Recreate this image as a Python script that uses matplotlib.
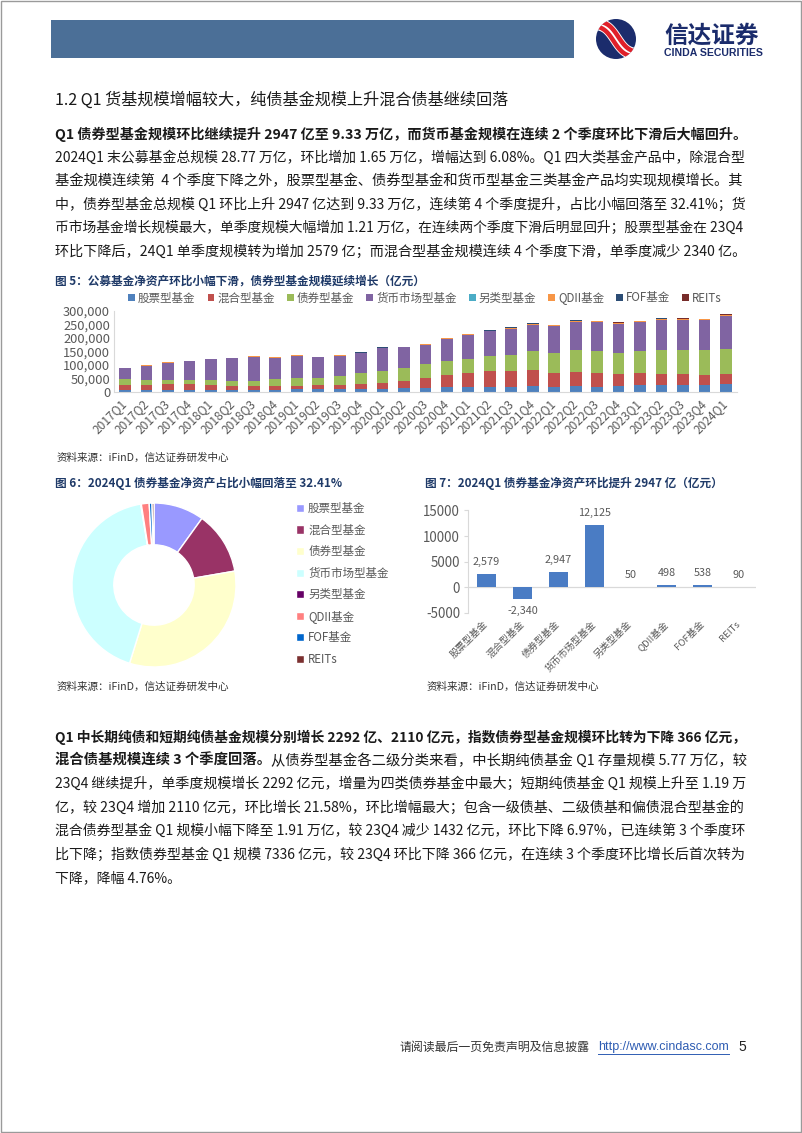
import matplotlib
matplotlib.use('Agg')
import matplotlib.pyplot as plt
from matplotlib.patches import Rectangle, Circle
from matplotlib.lines import Line2D
import numpy as np

plt.rcParams['font.family'] = ['Noto Sans CJK SC', 'DejaVu Sans']

W, H = 802, 1133
fig = plt.figure(figsize=(W / 100, H / 100), dpi=100)
fig.patch.set_facecolor('white')


def fx(x):
    return x / W


def fy(y):
    return 1 - y / H


def ax_px(l, t, r, b):
    return fig.add_axes([l / W, 1 - b / H, (r - l) / W, (b - t) / H])


# ---------------- data ----------------
quarters = ['2017Q1', '2017Q2', '2017Q3', '2017Q4', '2018Q1', '2018Q2', '2018Q3', '2018Q4',
            '2019Q1', '2019Q2', '2019Q3', '2019Q4', '2020Q1', '2020Q2', '2020Q3', '2020Q4',
            '2021Q1', '2021Q2', '2021Q3', '2021Q4', '2022Q1', '2022Q2', '2022Q3', '2022Q4',
            '2023Q1', '2023Q2', '2023Q3', '2023Q4', '2024Q1']
fund_types = ['股票型基金', '混合型基金', '债券型基金', '货币市场型基金', '另类型基金', 'QDII基金', 'FOF基金', 'REITs']

stock = [7000, 7200, 7500, 7600, 7300, 7100, 6800, 6700, 8700, 8600, 9200, 10800, 11200, 12800, 14600,
         16600, 16500, 17900, 18200, 21000, 17800, 21500, 19200, 20500, 23200, 24500, 26300, 25900, 28500]
mixed = [18900, 18800, 19700, 19400, 16200, 13900, 14200, 13100, 12300, 15100, 15600, 17700, 21000, 27900,
         36100, 45300, 53900, 59900, 59600, 59400, 52600, 52600, 48900, 44000, 44500, 42500, 40000, 37700, 35400]
bond = [19800, 17200, 14800, 15000, 18500, 18500, 19700, 27100, 28600, 28200, 33400, 41900, 45600, 47100,
        50800, 52900, 50700, 54400, 59200, 71500, 71800, 80400, 83800, 77800, 82000, 86000, 88000, 90400, 93300]
money = [42000, 53100, 65400, 70300, 77400, 83500, 88400, 78500, 83300, 75700, 74300, 73100, 83800, 76100,
         72100, 80700, 89900, 91900, 96500, 95600, 100400, 105200, 105200, 108700, 106900, 113500, 111200,
         110000, 122100]
alt = [300, 300, 300, 300, 400, 400, 400, 400, 500, 500, 500, 500, 600, 600, 600, 600, 500, 400, 400, 400,
       300, 300, 300, 300, 300, 300, 300, 300, 350]
qdii = [900, 900, 900, 900, 1000, 1000, 1000, 1000, 1100, 1100, 1100, 1100, 1300, 1300, 1400, 1500, 1700,
        1900, 2200, 2500, 2600, 2700, 2800, 3000, 3300, 3600, 3800, 4000, 4400]
fof = [0, 0, 0, 100, 200, 300, 400, 400, 500, 500, 600, 700, 800, 900, 1100, 1300, 1600, 1800, 2100, 2300,
       2200, 2100, 2000, 1900, 1800, 1500, 1300, 1100, 1600]
reits = [0, 0, 0, 0, 0, 0, 0, 0, 0, 0, 0, 0, 0, 0, 0, 0, 0, 300, 350, 550, 600, 750, 800, 800, 1000, 1100,
         1050, 1000, 1090]

qoq_change = [2579, -2340, 2947, 12125, 50, 498, 538, 90]

bar_colors = ['#4F81BD', '#C0504D', '#9BBB59', '#8064A2', '#4BACC6', '#F79646', '#2C4D75', '#772C2A']
pie_colors = ['#9999FF', '#993366', '#FFFFCC', '#CCFFFF', '#660066', '#FF8080', '#0066CC', '#7B3030']

TXT = '#1a1a1a'
GRAY = '#595959'
TITLE_C = '#1F3A68'

# ---------------- page frame / header ----------------
fig.add_artist(Rectangle((0.0008, 0.0008), 0.9984, 0.9984, transform=fig.transFigure,
                         fill=False, edgecolor='#9a9a9a', lw=1.0))
fig.add_artist(Rectangle((fx(51), fy(58)), (574 - 51) / W, 38 / H, transform=fig.transFigure,
                         facecolor='#4B6F97', edgecolor='none'))

# logo
lax = ax_px(592, 17, 640, 61)
lax.set_xlim(-1.1, 1.1)
lax.set_ylim(-1.1, 1.1)
lax.set_aspect('equal')
lax.axis('off')
circ = Circle((0, 0), 1.0, facecolor='#1B2C6C', edgecolor='none')
lax.add_patch(circ)
tt = np.linspace(-1.3, 1.3, 100)
for off, c, lw in [(0.0, 'white', 9), (-0.16, '#E0202A', 3.2), (0.16, '#E0202A', 3.2)]:
    xx = tt * 0.85 + off * 0.7
    yy = -np.tanh(tt * 1.6) * 0.8 + off * 0.7
    ln, = lax.plot(xx, yy, color=c, lw=lw, solid_capstyle='butt')
    ln.set_clip_path(circ)
fig.text(fx(664), fy(36), '信达证券', fontsize=17, fontweight='bold', color='#1B2C6C', ha='left', va='center')
fig.text(fx(664), fy(52.5), 'CINDA SECURITIES', fontsize=7.6, fontweight='bold', color='#1B2C6C',
         ha='left', va='center', family=['Liberation Sans', 'DejaVu Sans'])

# section title
fig.text(fx(55), fy(100), '1.2 Q1 货基规模增幅较大，纯债基金规模上升混合债基继续回落', fontsize=11.6,
         color=TXT, ha='left', va='center')

renderer = fig.canvas.get_renderer()


def draw_line(y, segs, x0=55, x1=745, size=10.0, fit=True, color=TXT):
    texts = []
    for s, b in segs:
        t = fig.text(fx(x0), fy(y), s, fontsize=size, fontweight='bold' if b else 'normal',
                     color=color, ha='left', va='center')
        texts.append(t)

    def layout():
        x = x0
        for t in texts:
            t.set_x(fx(x))
            x += t.get_window_extent(renderer).width
        return x - x0

    w = layout()
    if fit:
        sc = min(max((x1 - x0) / w, 0.88), 1.1)
        for t in texts:
            t.set_fontsize(size * sc)
        layout()


para1 = [
    ([('Q1 债券型基金规模环比继续提升 2947 亿至 9.33 万亿，而货币基金规模在连续 2 个季度环比下滑后大幅回升。', True)], True),
    ([('2024Q1 末公募基金总规模 28.77 万亿，环比增加 1.65 万亿，增幅达到 6.08%。Q1 四大类基金产品中，除混合型', False)], True),
    ([('基金规模连续第  4 个季度下降之外，股票型基金、债券型基金和货币型基金三类基金产品均实现规模增长。其', False)], True),
    ([('中，债券型基金总规模 Q1 环比上升 2947 亿达到 9.33 万亿，连续第 4 个季度提升，占比小幅回落至 32.41%；货', False)], True),
    ([('币市场基金增长规模最大，单季度规模大幅增加 1.21 万亿，在连续两个季度下滑后明显回升；股票型基金在 23Q4', False)], True),
    ([('环比下降后，24Q1 单季度规模转为增加 2579 亿；而混合型基金规模连续 4 个季度下滑，单季度减少 2340 亿。', False)], True),
]
for i, (segs, fit) in enumerate(para1):
    draw_line(134 + i * 23.5, segs, fit=fit)

para2 = [
    ([('Q1 中长期纯债和短期纯债基金规模分别增长 2292 亿、2110 亿元，指数债券型基金规模环比转为下降 366 亿元，', True)], True),
    ([('混合债基规模连续 3 个季度回落。', True), ('从债券型基金各二级分类来看，中长期纯债基金 Q1 存量规模 5.77 万亿，较', False)], True),
    ([('23Q4 继续提升，单季度规模增长 2292 亿元，增量为四类债券基金中最大；短期纯债基金 Q1 规模上升至 1.19 万', False)], True),
    ([('亿，较 23Q4 增加 2110 亿元，环比增长 21.58%，环比增幅最大；包含一级债基、二级债基和偏债混合型基金的', False)], True),
    ([('混合债券型基金 Q1 规模小幅下降至 1.91 万亿，较 23Q4 减少 1432 亿元，环比下降 6.97%，已连续第 3 个季度环', False)], True),
    ([('比下降；指数债券型基金 Q1 规模 7336 亿元，较 23Q4 环比下降 366 亿元，在连续 3 个季度环比增长后首次转为', False)], True),
    ([('下降，降幅 4.76%。', False)], False),
]
for i, (segs, fit) in enumerate(para2):
    draw_line(737 + i * 23.5, segs, fit=fit)

# ---------------- Chart 5: stacked bars ----------------
fig.text(fx(55), fy(281), '图 5：公募基金净资产环比小幅下滑，债券型基金规模延续增长（亿元）', fontsize=8.4,
         fontweight='bold', color=TITLE_C, ha='left', va='center')
ax5 = ax_px(114.3, 310.7, 736.6, 391.7)
series = [stock, mixed, bond, money, alt, qdii, fof, reits]
x = np.arange(len(quarters))
bottom = np.zeros(len(quarters))
handles = []
for s, lab, c in zip(series, fund_types, bar_colors):
    b = ax5.bar(x, s, 0.55, bottom=bottom, color=c, label=lab, linewidth=0)
    handles.append(b)
    bottom = bottom + np.array(s)
ax5.set_xlim(-0.5, len(quarters) - 0.5)
ax5.set_ylim(0, 300000)
ax5.set_yticks(np.arange(0, 300001, 50000))
ax5.set_yticklabels(['{:,}'.format(v) for v in range(0, 300001, 50000)])
ax5.set_xticks(x)
ax5.set_xticklabels(quarters, rotation=45, ha='right', va='center', rotation_mode='anchor')
for sp in ['top', 'right']:
    ax5.spines[sp].set_visible(False)
for sp in ['left', 'bottom']:
    ax5.spines[sp].set_color('#D9D9D9')
    ax5.spines[sp].set_linewidth(0.8)
ax5.tick_params(axis='y', length=0, labelsize=9.3, labelcolor=GRAY, pad=3)
ax5.tick_params(axis='x', length=0, labelsize=8.6, labelcolor=GRAY, pad=7)
ax5.set_facecolor('none')
ax5.legend(handles=handles, loc='center', bbox_to_anchor=(fx(425), fy(298)), bbox_transform=fig.transFigure,
           ncol=8, frameon=False, fontsize=8.3, handlelength=0.6, handleheight=0.6, handletextpad=0.25,
           columnspacing=1.05, borderpad=0, labelcolor=GRAY)
fig.text(fx(57), fy(458), '资料来源：iFinD，信达证券研发中心', fontsize=7.6, style='italic', color='#333333',
         ha='left', va='center')

# ---------------- Chart 6: donut ----------------
fig.text(fx(55), fy(483), '图 6：2024Q1 债券基金净资产占比小幅回落至 32.41%', fontsize=8.4,
         fontweight='bold', color=TITLE_C, ha='left', va='center')
ax6 = ax_px(72, 503, 236, 667)
latest = [stock[-1], mixed[-1], bond[-1], money[-1], alt[-1], qdii[-1], fof[-1], reits[-1]]
wedges, _ = ax6.pie(latest, colors=pie_colors, startangle=90, counterclock=False, radius=1.0,
                    wedgeprops=dict(width=0.51, edgecolor='white', linewidth=1.0))
ax6.set_xlim(-1, 1)
ax6.set_ylim(-1, 1)
ax6.set_aspect('equal')
ax6.legend(wedges, fund_types, loc='upper left', bbox_to_anchor=(fx(296), fy(502)),
           bbox_transform=fig.transFigure, frameon=False, fontsize=8.3, handlelength=0.7, handleheight=0.7,
           handletextpad=0.35, labelspacing=0.74, borderpad=0, borderaxespad=0, labelcolor=GRAY)
fig.text(fx(57), fy(687), '资料来源：iFinD，信达证券研发中心', fontsize=7.6, style='italic', color='#333333',
         ha='left', va='center')

# ---------------- Chart 7: QoQ bars ----------------
fig.text(fx(425), fy(483), '图 7：2024Q1 债券基金净资产环比提升 2947 亿（亿元）', fontsize=8.4,
         fontweight='bold', color=TITLE_C, ha='left', va='center')
ax7 = ax_px(468.5, 510.4, 756.5, 613)
x7 = np.arange(len(fund_types))
b7 = ax7.bar(x7, qoq_change, 0.53, color='#4A7CC4', linewidth=0)
ax7.bar_label(b7, labels=['{:,}'.format(v) for v in qoq_change], padding=5, fontsize=7.8, color=GRAY)
ax7.set_xlim(-0.5, len(fund_types) - 0.5)
ax7.set_ylim(-5000, 15000)
ax7.set_yticks([-5000, 0, 5000, 10000, 15000])
ax7.set_yticklabels(['-5000', '0', '5000', '10000', '15000'])
ax7.axhline(0, color='#D9D9D9', lw=0.9, zorder=0)
ax7.set_xticks(x7)
ax7.set_xticklabels(fund_types, rotation=45, ha='right', va='center', rotation_mode='anchor')
for sp in ['top', 'right', 'bottom']:
    ax7.spines[sp].set_visible(False)
ax7.spines['left'].set_color('#D9D9D9')
ax7.tick_params(axis='y', length=3, color='#D9D9D9', labelsize=9.6, labelcolor=GRAY, pad=3)
ax7.tick_params(axis='x', length=0, labelsize=6.9, labelcolor=GRAY, pad=7)
ax7.set_facecolor('none')
fig.text(fx(427), fy(687), '资料来源：iFinD，信达证券研发中心', fontsize=7.6, style='italic', color='#333333',
         ha='left', va='center')

# ---------------- footer ----------------
fig.text(fx(400), fy(1047), '请阅读最后一页免责声明及信息披露', fontsize=8.6, color='#333333', ha='left', va='center')
lt = fig.text(fx(598), fy(1047), 'http://www.cindasc.com', fontsize=9.0, color='#2F5DB3', ha='left', va='center',
              family=['Liberation Sans', 'DejaVu Sans'])
ext = lt.get_window_extent(renderer)
fig.add_artist(Line2D([ext.x0 / W, ext.x1 / W], [fy(1054), fy(1054)], transform=fig.transFigure,
                      color='#2F5DB3', lw=0.7))
fig.text(fx(738), fy(1047), '5', fontsize=10, color='#222222', ha='left', va='center',
         family=['Liberation Sans', 'DejaVu Sans'])

fig.savefig('out.png', dpi=100)
